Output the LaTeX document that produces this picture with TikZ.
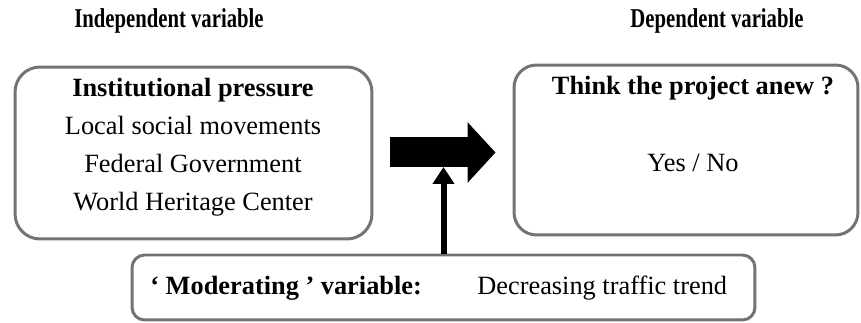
\documentclass[tikz,border=0pt]{standalone}
\usepackage{fontspec}
\setmainfont{Liberation Serif}
\usepackage{graphicx}
\usetikzlibrary{arrows.meta}
\colorlet{BoxGray}{black!55}
\tikzset{
  varbox/.style={draw=BoxGray, line width=1.7pt, fill=white, inner sep=0pt},
  headtxt/.style={anchor=base, font=\fontsize{15.5}{18}\selectfont\bfseries, inner sep=0pt},
  txt/.style={anchor=base, font=\fontsize{15}{18}\selectfont, inner sep=0pt},
  btxt/.style={anchor=base, font=\fontsize{15}{18}\selectfont\bfseries, inner sep=0pt},
  bigarr/.style={-{Triangle[length=0.56cm, width=1.18cm]}, line width=0.6cm, black},
  modarr/.style={-{Triangle[length=0.34cm, width=0.42cm]}, line width=0.12cm, black},
}
\begin{document}
\begin{tikzpicture}[x=0.02cm, y=0.02cm]
  \useasboundingbox (0,0) rectangle (861,-323);
  % headings
  \node[headtxt] (indep) at (169,-28) {\scalebox{0.76}[1]{Independent variable}};
  \node[headtxt] (dep) at (717,-28) {\scalebox{0.76}[1]{Dependent variable}};
  % boxes
  \node[varbox, rounded corners=0.5cm, minimum width=7.14cm, minimum height=3.44cm] (ivbox) at (193.5,-153) {};
  \node[varbox, rounded corners=0.45cm, minimum width=6.88cm, minimum height=3.4cm] (dvbox) at (686,-150) {};
  \node[varbox, rounded corners=0.25cm, minimum width=12.46cm, minimum height=1.3cm] (mvbox) at (443.5,-287.5) {};
  % independent variable
  \node[btxt] (inst) at (193,-97) {Institutional pressure};
  \node[txt] (local) at (193,-135) {Local social movements};
  \node[txt] (fed) at (193,-173) {Federal Government};
  \node[txt] (whc) at (193,-211) {World Heritage Center};
  % dependent variable
  \node[btxt] (think) at (693,-95) {Think the project anew ?};
  \node[txt] (yesno) at (693,-172) {Yes / No};
  % moderating variable
  \node[btxt, anchor=base west] (modlab) at (150,-295) {‘ Moderating ’ variable:};
  \node[txt, anchor=base west] (traffic) at (477,-295) {Decreasing traffic trend};
  % arrows
  \coordinate (arrlow) at (443.5,-167);
  \draw[bigarr, shorten <=0.34cm, shorten >=0.34cm] (ivbox.east |- 0,-152.5) -- (dvbox.west |- 0,-152.5);
  \draw[modarr] (mvbox.north) -- (arrlow);
\end{tikzpicture}
\end{document}
